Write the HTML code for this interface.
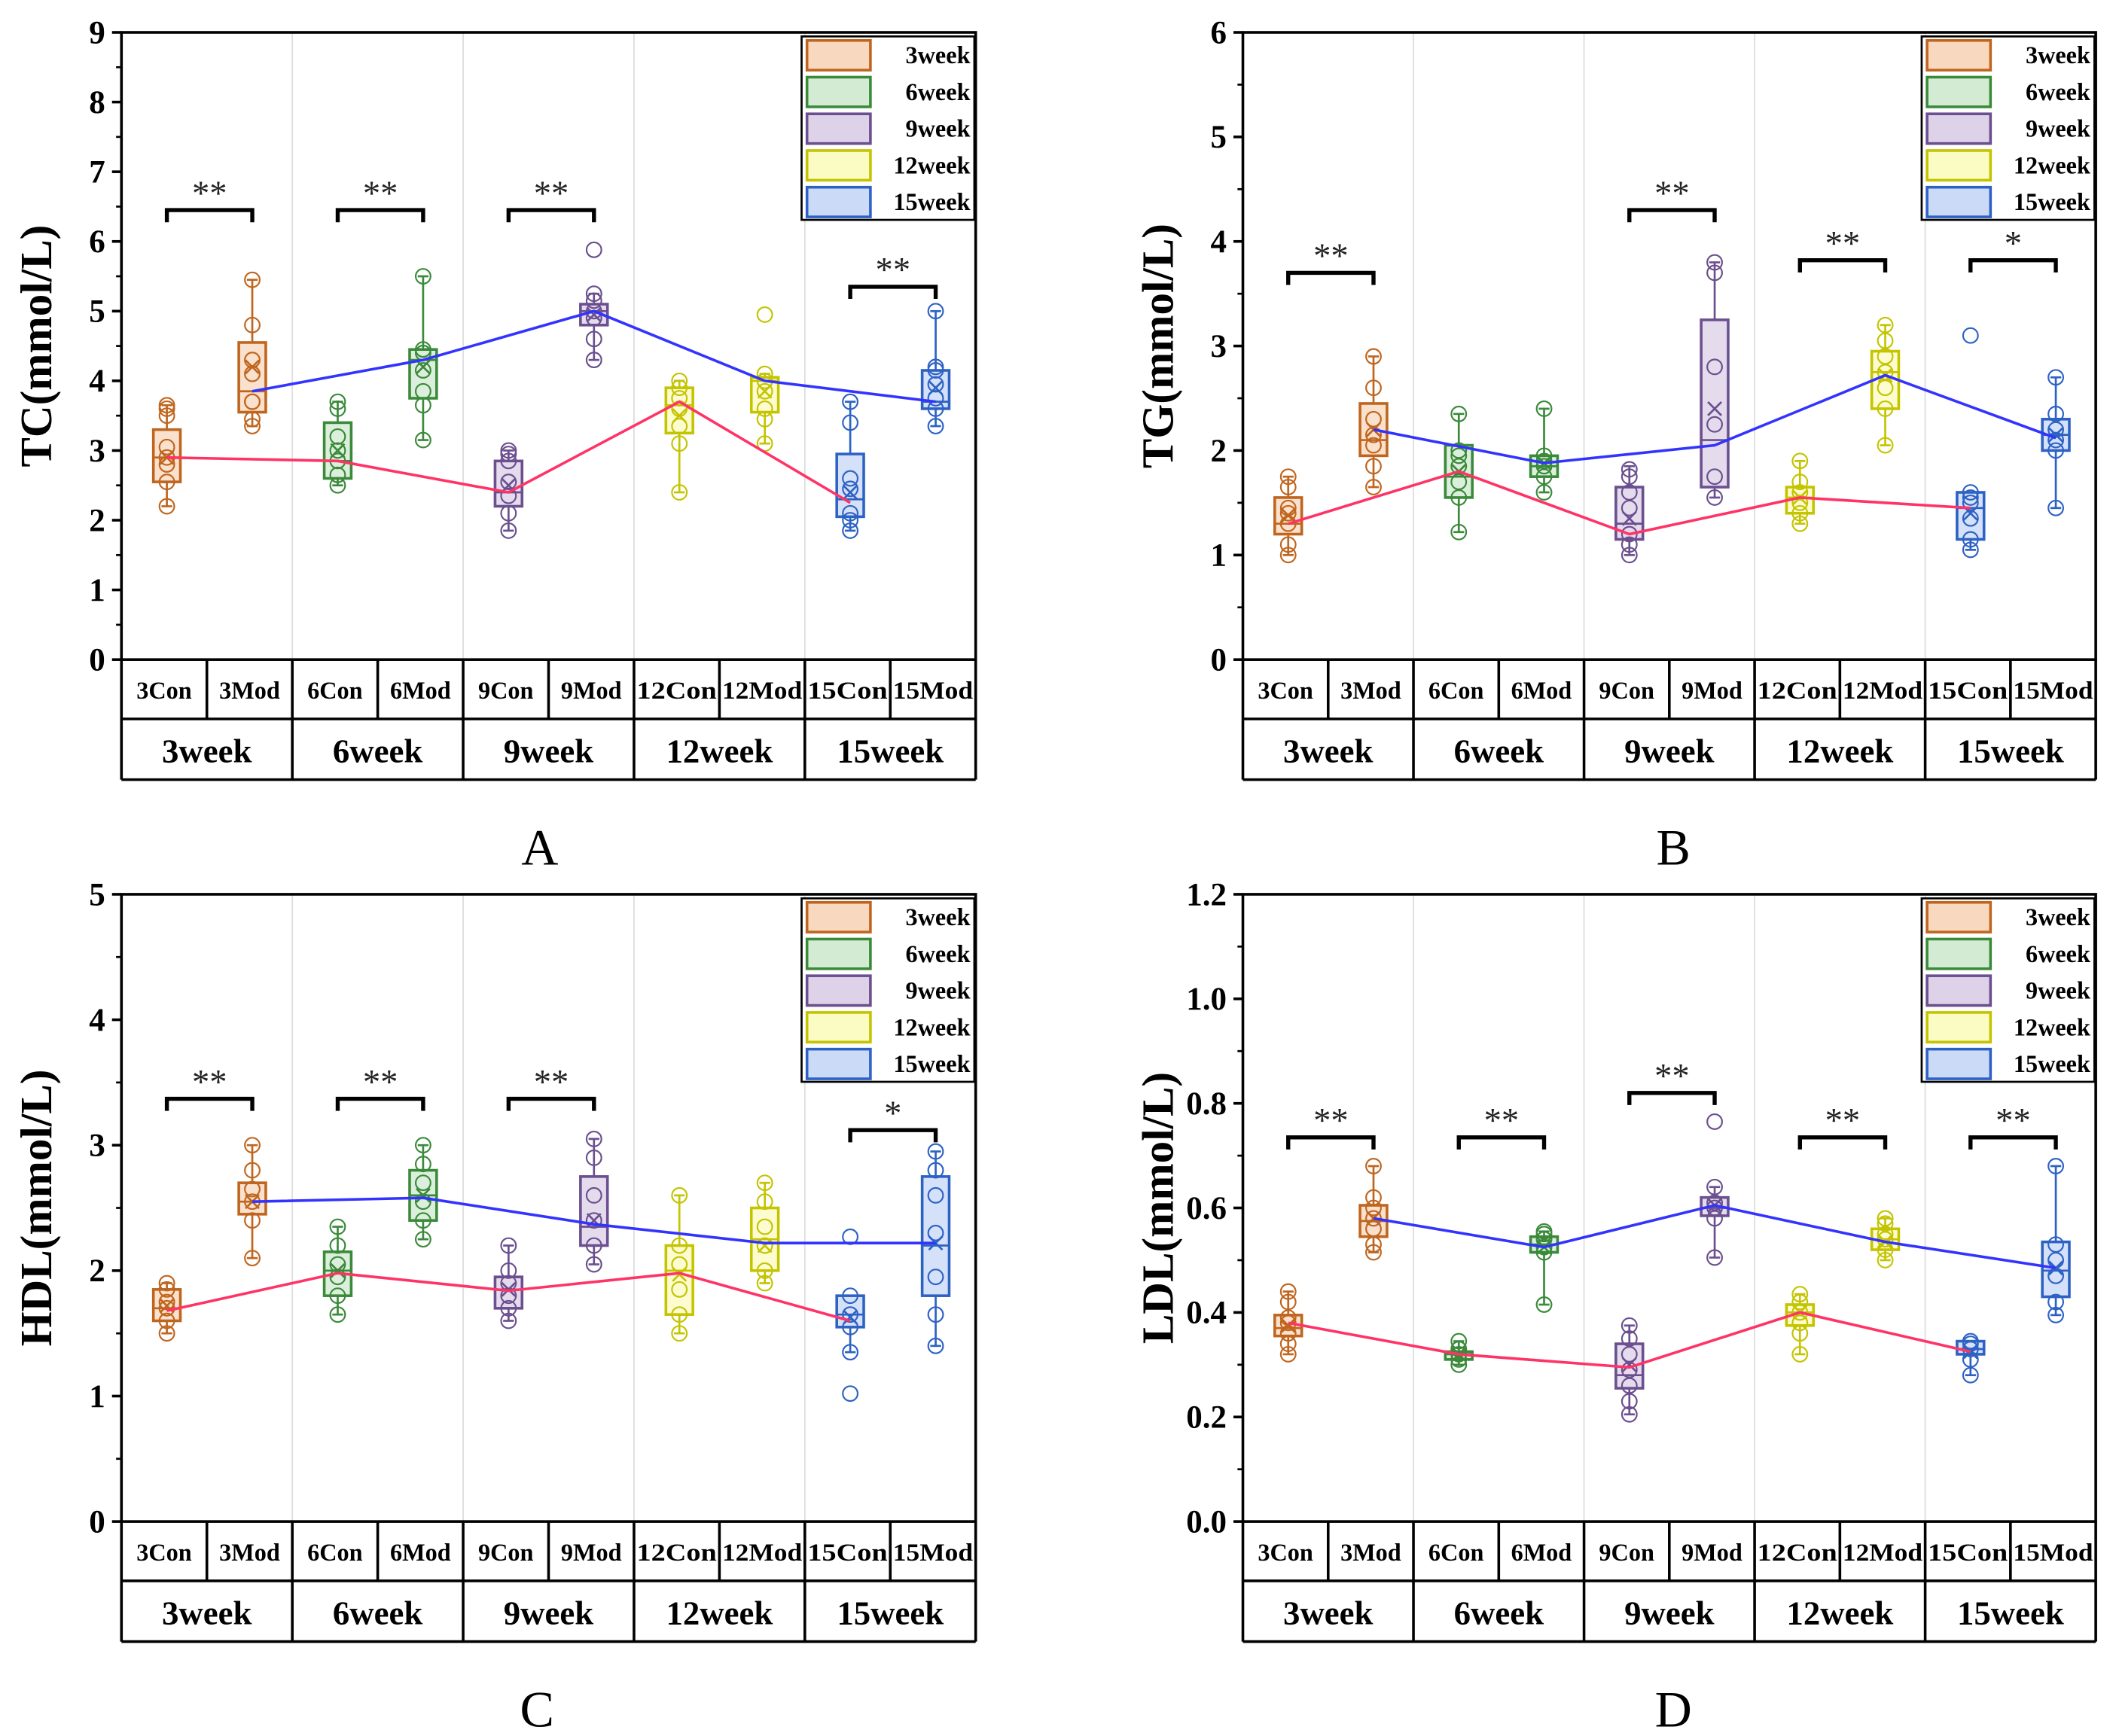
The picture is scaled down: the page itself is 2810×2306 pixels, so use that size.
<!DOCTYPE html>
<html><head><meta charset="utf-8"><style>
html,body{margin:0;padding:0;background:#fff;}
svg{display:block;font-family:"Liberation Serif",serif;}
</style></head><body>
<svg id="fig" width="2810" height="2306" viewBox="0 0 1568 1287" preserveAspectRatio="none" xmlns="http://www.w3.org/2000/svg"></svg>
<script>
// ---------- data ----------
const categories = ["3Con","3Mod","6Con","6Mod","9Con","9Mod","12Con","12Mod","15Con","15Mod"];
const weeks = ["3week","6week","9week","12week","15week"];
// box stats per panel: [q1, median, q3, whiskerLow, whiskerHigh, mean]
const boxA = [[2.55,2.9,3.3,2.2,3.65,2.9],[3.55,3.85,4.55,3.35,5.45,4.2],[2.6,2.85,3.4,2.5,3.7,3.0],[3.75,4.3,4.45,3.15,5.5,4.2],[2.2,2.4,2.85,1.85,3.0,2.5],[4.8,5.0,5.1,4.3,5.25,4.95],[3.25,3.65,3.9,2.4,4.0,3.5],[3.55,4.0,4.05,3.1,4.1,3.85],[2.05,2.3,2.95,1.85,3.7,2.4],[3.6,3.7,4.15,3.35,5.0,3.9]];
const ptsA = [[2.2,2.55,2.8,2.9,3.05,3.5,3.6,3.65],[3.35,3.45,3.7,3.7,4.1,4.3,4.8,5.45],[2.5,2.65,2.85,3.0,3.2,3.6,3.7],[3.15,3.65,3.85,4.15,4.4,4.45,5.5],[1.85,2.1,2.35,2.55,2.85,2.95,3.0],[4.3,4.6,4.9,5.0,5.15,5.25,5.88],[2.4,3.1,3.35,3.6,3.75,3.9,4.0],[3.1,3.45,3.6,3.85,4.0,4.1,4.95],[1.85,2.0,2.1,2.45,2.6,3.4,3.7],[3.35,3.6,3.75,3.95,4.15,4.2,5.0]];
const conLineA = [2.9,2.85,2.4,3.7,2.25];
const modLineA = [3.85,4.3,5.0,4.0,3.7];
const sigA = [[0,6.45,"**"],[1,6.45,"**"],[2,6.45,"**"],[4,5.35,"**"]];

const boxB = [[1.2,1.3,1.55,1.0,1.75,1.38],[1.95,2.1,2.45,1.65,2.9,2.2],[1.55,1.75,2.05,1.22,2.35,1.8],[1.75,1.85,1.95,1.6,2.4,1.88],[1.15,1.3,1.65,1.0,1.85,1.35],[1.65,2.1,3.25,1.55,3.8,2.4],[1.4,1.55,1.65,1.3,1.9,1.55],[2.4,2.75,2.95,2.05,3.2,2.72],[1.15,1.45,1.6,1.05,1.6,1.4],[2.0,2.15,2.3,1.45,2.7,2.15]];
const ptsB = [[1.0,1.1,1.3,1.4,1.45,1.65,1.75],[1.65,1.85,2.05,2.15,2.3,2.6,2.9],[1.22,1.55,1.7,1.85,1.95,2.0,2.35],[1.6,1.75,1.85,1.9,1.95,2.4],[1.0,1.1,1.2,1.45,1.6,1.75,1.82],[1.55,1.75,2.25,2.8,3.7,3.8],[1.3,1.4,1.5,1.6,1.7,1.9],[2.05,2.4,2.6,2.75,2.9,3.05,3.2],[1.05,1.15,1.35,1.5,1.55,1.6,3.1],[1.45,2.0,2.1,2.2,2.35,2.7]];
const conLineB = [1.3,1.8,1.2,1.55,1.45];
const modLineB = [2.2,1.88,2.05,2.72,2.12];
const sigB = [[0,3.7,"**"],[2,4.3,"**"],[3,3.82,"**"],[4,3.82,"*"]];

const boxC = [[1.6,1.7,1.85,1.5,1.9,1.72],[2.45,2.55,2.7,2.1,3.0,2.55],[1.8,2.0,2.15,1.65,2.35,2.0],[2.4,2.6,2.8,2.25,3.0,2.6],[1.7,1.85,1.95,1.6,2.2,1.85],[2.2,2.35,2.75,2.05,3.05,2.4],[1.65,2.0,2.2,1.5,2.6,1.97],[2.0,2.25,2.5,1.9,2.7,2.2],[1.55,1.65,1.8,1.35,1.8,1.63],[1.8,2.2,2.75,1.4,2.95,2.22]];
const ptsC = [[1.5,1.6,1.7,1.75,1.85,1.9],[2.1,2.4,2.55,2.65,2.8,3.0],[1.65,1.8,1.95,2.05,2.2,2.35],[2.25,2.4,2.55,2.7,2.85,3.0],[1.6,1.7,1.8,1.9,2.0,2.2],[2.05,2.2,2.4,2.6,2.9,3.05],[1.5,1.65,1.85,2.05,2.2,2.6],[1.9,2.0,2.2,2.35,2.55,2.7],[1.02,1.35,1.55,1.65,1.8,2.27],[1.4,1.65,1.95,2.3,2.6,2.8,2.95]];
const conLineC = [1.68,1.98,1.84,1.98,1.6];
const modLineC = [2.55,2.58,2.37,2.22,2.22];
const sigC = [[0,3.37,"**"],[1,3.37,"**"],[2,3.37,"**"],[4,3.12,"*"]];

const boxD = [[0.355,0.37,0.395,0.32,0.44,0.375],[0.545,0.575,0.605,0.515,0.68,0.58],[0.31,0.32,0.325,0.30,0.345,0.32],[0.515,0.53,0.545,0.415,0.555,0.525],[0.255,0.28,0.34,0.205,0.375,0.30],[0.585,0.60,0.62,0.505,0.64,0.605],[0.375,0.40,0.415,0.32,0.435,0.40],[0.52,0.54,0.56,0.50,0.58,0.535],[0.32,0.33,0.345,0.28,0.345,0.325],[0.43,0.48,0.535,0.395,0.68,0.485]];
const ptsD = [[0.32,0.34,0.36,0.38,0.39,0.42,0.44],[0.515,0.53,0.56,0.58,0.60,0.62,0.68],[0.30,0.31,0.32,0.33,0.345],[0.415,0.515,0.525,0.54,0.55,0.555],[0.205,0.23,0.26,0.29,0.32,0.35,0.375],[0.505,0.58,0.60,0.61,0.64,0.765],[0.32,0.36,0.38,0.40,0.42,0.435],[0.50,0.52,0.54,0.55,0.57,0.58],[0.28,0.31,0.33,0.34,0.345],[0.395,0.42,0.47,0.50,0.53,0.68]];
const conLineD = [0.38,0.32,0.295,0.40,0.325];
const modLineD = [0.58,0.525,0.605,0.535,0.485];
const sigD = [[0,0.735,"**"],[1,0.735,"**"],[2,0.82,"**"],[3,0.735,"**"],[4,0.735,"**"]];

const ticksA = ["0","1","2","3","4","5","6","7","8","9"];
const ticksB = ["0","1","2","3","4","5","6"];
const ticksC = ["0","1","2","3","4","5"];
const ticksD = ["0.0","0.2","0.4","0.6","0.8","1.0","1.2"];

const strokeCols = ["#c0651e","#3a8a3a","#6b4f8f","#c4c400","#2d62c4"];
const fillCols = ["#f8d9c0","#d3ebd3","#ddd2e8","#fbfbc4","#cbdaf6"];

// ---------- drawing ----------
const NS = "http://www.w3.org/2000/svg";
const svg = document.getElementById("fig");
function mk(tag, attrs, parent){
  const e = document.createElementNS(NS, tag);
  for (const k in attrs) e.setAttribute(k, attrs[k]);
  (parent||svg).appendChild(e);
  return e;
}

function panel(cfg){
  const {x0,x1,y0,y1,max,ticks,label,letter,letterX,box,pts,con,mod,sig,id} = cfg;
  const g = mk("g",{});
  
  
  const catW = (x1-x0)/10;
  const yS = v => y1 - v/max*(y1-y0);
  const xC = i => x0 + catW*(i+0.5);
  for (let k=1;k<5;k++){
    const l = mk("line",{x1:x0+k*2*catW,x2:x0+k*2*catW,y1:y0,y2:y1,stroke:"#ddd","stroke-width":1},g);
    
    
  }
  const fr = mk("rect",{x:x0,y:y0,width:x1-x0,height:y1-y0,fill:"none",stroke:"#000","stroke-width":2},g);
  
  
  const n = ticks.length-1;
  for (let i=0;i<=n;i++){
    const v = max*i/n, y=yS(v);
    mk("line",{x1:x0-7,x2:x0,y1:y,y2:y,stroke:"#000","stroke-width":2},g);
    const t = mk("text",{x:x0-12,y:y+8,"text-anchor":"end","font-size":24,"font-weight":"bold"},g);
    t.textContent = ticks[i];
    
    
    if (i<n){ const ym=yS(v+max/n/2); mk("line",{x1:x0-4,x2:x0,y1:ym,y2:ym,stroke:"#000","stroke-width":1.5},g); }
  }
  const yt = mk("text",{x:0,y:0,"text-anchor":"middle","font-size":33,"font-weight":"bold",transform:`translate(${x0-52},${(y0+y1)/2}) rotate(-90)`},g);
  yt.textContent = label;
  
  
  const r1 = y1+44, r2 = y1+89;
  mk("line",{x1:x0,x2:x1,y1:r1,y2:r1,stroke:"#000","stroke-width":2},g);
  mk("line",{x1:x0,x2:x1,y1:r2,y2:r2,stroke:"#000","stroke-width":2},g);
  mk("line",{x1:x0,x2:x0,y1:y1,y2:r2,stroke:"#000","stroke-width":2},g);
  mk("line",{x1:x1,x2:x1,y1:y1,y2:r2,stroke:"#000","stroke-width":2},g);
  for (let i=1;i<10;i++){
    const xx=x0+i*catW;
    mk("line",{x1:xx,x2:xx,y1:y1,y2:(i%2==0?r2:r1),stroke:"#000","stroke-width":2},g);
  }
  categories.forEach((c,i)=>{
    const t = mk("text",{x:xC(i),y:y1+29,"text-anchor":"middle","font-size":18,"font-weight":"bold"},g);
    if (c.length>=5){ t.setAttribute("textLength", catW-4); t.setAttribute("lengthAdjust","spacingAndGlyphs"); }
    t.textContent = c;
    
    
  });
  weeks.forEach((w,k)=>{
    const t = mk("text",{x:x0+(2*k+1)*catW,y:y1+76,"text-anchor":"middle","font-size":25,"font-weight":"bold"},g);
    t.textContent = w;
    
    
  });
  const L = mk("text",{x:letterX,y:y1+152,"text-anchor":"middle","font-size":38},g);
  L.textContent = letter;
  
  
  const bw = 20;
  box.forEach((b,i)=>{
    const gi = Math.floor(i/2), sc=strokeCols[gi], fc=fillCols[gi], cx=xC(i)+2;
    const [q1,md,q3,wl,wh,mn]=b;
    mk("line",{x1:cx,x2:cx,y1:yS(wh),y2:yS(q3),stroke:sc,"stroke-width":1.5},g);
    mk("line",{x1:cx,x2:cx,y1:yS(q1),y2:yS(wl),stroke:sc,"stroke-width":1.5},g);
    mk("line",{x1:cx-4,x2:cx+4,y1:yS(wh),y2:yS(wh),stroke:sc,"stroke-width":1.5},g);
    mk("line",{x1:cx-4,x2:cx+4,y1:yS(wl),y2:yS(wl),stroke:sc,"stroke-width":1.5},g);
    const r = mk("rect",{x:cx-bw/2,y:yS(q3),width:bw,height:Math.max(1,yS(q1)-yS(q3)),fill:fc,"fill-opacity":0.8,stroke:sc,"stroke-width":2},g);
    
    
    mk("line",{x1:cx-bw/2,x2:cx+bw/2,y1:yS(md),y2:yS(md),stroke:sc,"stroke-width":1.5},g);
    const my=yS(mn);
    mk("path",{d:`M${cx-5},${my-5}L${cx+5},${my+5}M${cx-5},${my+5}L${cx+5},${my-5}`,stroke:sc,"stroke-width":1.5},g);
    pts[i].forEach(v=>{
      const c = mk("circle",{cx:cx,cy:yS(v),r:5.5,fill:"none",stroke:sc,"stroke-width":1.2},g);
      
      
    });
  });
  const lc = mk("polyline",{points:con.map((v,k)=>`${xC(2*k)+2},${yS(v)}`).join(" "),fill:"none",stroke:"#ff3366","stroke-width":2},g);
  
  
  const lm = mk("polyline",{points:mod.map((v,k)=>`${xC(2*k+1)+2},${yS(v)}`).join(" "),fill:"none",stroke:"#3333ff","stroke-width":2},g);
  
  
  sig.forEach(([k,v,s])=>{
    const xa=xC(2*k)+2, xb=xC(2*k+1)+2, y=yS(v);
    const p = mk("path",{d:`M${xa},${y+9}V${y}H${xb}V${y+9}`,fill:"none",stroke:"#000","stroke-width":3},g);
    
    
    const t = mk("text",{x:(xa+xb)/2,y:y-4,"text-anchor":"middle","font-size":26,fill:"#222"},g);
    t.textContent = s;
    
    
  });
  const lx = x1-129, ly = y0+3;
  const lg = mk("rect",{x:lx,y:ly,width:128,height:136,fill:"#fff",stroke:"#000","stroke-width":1.5},g);
  
  
  weeks.forEach((w,k)=>{
    const yy = ly+3+k*27.2;
    const pr = mk("rect",{x:lx+4,y:yy,width:47,height:22,fill:fillCols[k],stroke:strokeCols[k],"stroke-width":2},g);
    
    
    const t = mk("text",{x:lx+125,y:yy+17,"text-anchor":"end","font-size":18,"font-weight":"bold"},g);
    t.textContent = w;
    
    
  });
}

panel({id:"tc",x0:90,x1:723,y0:24,y1:489,max:9,ticks:ticksA,label:"TC(mmol/L)",letter:"A",letterX:400,box:boxA,pts:ptsA,con:conLineA,mod:modLineA,sig:sigA});
panel({id:"tg",x0:921,x1:1553,y0:24,y1:489,max:6,ticks:ticksB,label:"TG(mmol/L)",letter:"B",letterX:1240,box:boxB,pts:ptsB,con:conLineB,mod:modLineB,sig:sigB});
panel({id:"hdl",x0:90,x1:723,y0:663,y1:1128,max:5,ticks:ticksC,label:"HDL(mmol/L)",letter:"C",letterX:398,box:boxC,pts:ptsC,con:conLineC,mod:modLineC,sig:sigC});
panel({id:"ldl",x0:921,x1:1553,y0:663,y1:1128,max:1.2,ticks:ticksD,label:"LDL(mmol/L)",letter:"D",letterX:1240,box:boxD,pts:ptsD,con:conLineD,mod:modLineD,sig:sigD});
</script>
</body></html>
